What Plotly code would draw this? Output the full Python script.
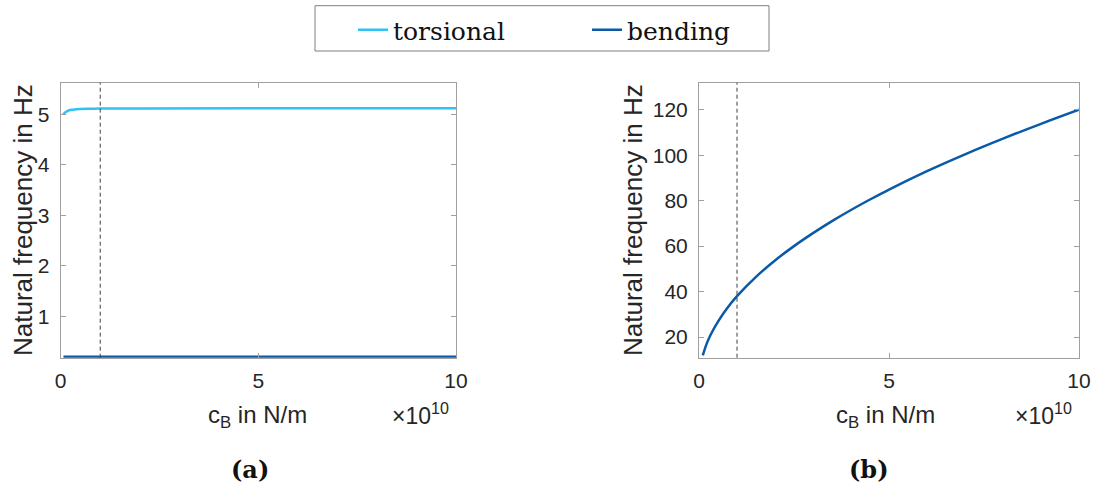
import plotly.graph_objects as go
from plotly.subplots import make_subplots

# Bearing stiffness c_B in units of 1e10 N/m
c_B_torsional = [0.07, 0.1, 0.15, 0.2, 0.3, 0.5, 0.75, 1.0, 2.0, 5.0, 10.0]
f_torsional = [5.00, 5.03, 5.06, 5.08, 5.095, 5.11, 5.115, 5.118, 5.12, 5.122, 5.122]

c_B_bending_a = [0.07, 1.0, 5.0, 10.0]
f_bending_a = [0.2, 0.2, 0.2, 0.2]

c_B_bending_b = [0.1, 0.2, 0.3, 0.5, 0.75, 1.0, 1.5, 2.0, 2.5, 3.0, 3.5, 4.0,
                 4.5, 5.0, 6.0, 7.0, 8.0, 9.0, 10.0]
f_bending_b = [11.9, 17.0, 20.8, 26.8, 32.9, 38.0, 46.5, 53.7, 60.0, 65.7, 71.0,
               75.9, 80.5, 84.9, 93.0, 100.4, 107.3, 113.8, 120.0]

c_B_nominal = 1.0  # design stiffness, 1e10 N/m

x_ticks = [0, 5, 10]
y_ticks_a = [1, 2, 3, 4, 5]
y_ticks_b = [20, 40, 60, 80, 100, 120]

C_TORS = "#2EC2F5"
C_BEND = "#0A5AA8"
TXT = "#262626"
AX = "#A0A0A0"
SANS = "Liberation Sans"
SERIF = "DejaVu Serif"

W, H = 1097, 484

fig = make_subplots(rows=1, cols=2)

fig.add_trace(go.Scatter(x=c_B_torsional, y=f_torsional, mode="lines", name="torsional",
                         line=dict(color=C_TORS, width=2.5, shape="spline")), row=1, col=1)
fig.add_trace(go.Scatter(x=c_B_bending_a, y=f_bending_a, mode="lines", name="bending",
                         line=dict(color=C_BEND, width=2.5)), row=1, col=1)
fig.add_trace(go.Scatter(x=c_B_bending_b, y=f_bending_b, mode="lines", name="bending",
                         showlegend=False,
                         line=dict(color=C_BEND, width=2.5, shape="spline")), row=1, col=2)

axis_common = dict(showline=True, linecolor=AX, linewidth=1, mirror="ticks",
                   ticks="inside", ticklen=5, tickcolor=AX, showgrid=False,
                   zeroline=False, automargin=False,
                   tickfont=dict(family=SANS, size=21, color=TXT))

fig.update_xaxes(**axis_common, range=[0, 10], tickvals=x_ticks, ticklabelstandoff=4)
fig.update_yaxes(**axis_common, ticklabelstandoff=6)

fig.update_layout(
    xaxis=dict(domain=[60.7 / W, 456 / W]),
    xaxis2=dict(domain=[699 / W, 1079 / W]),
    yaxis=dict(domain=[1 - 357.7 / H, 1 - 82.7 / H], range=[0.18, 5.63], tickvals=y_ticks_a),
    yaxis2=dict(domain=[1 - 357.7 / H, 1 - 82.7 / H], range=[10.9, 131.9], tickvals=y_ticks_b),
)

# Dashed marker at the nominal bearing stiffness
for col in (1, 2):
    fig.add_vline(x=c_B_nominal, line=dict(color="#404040", width=1, dash="4px,3px"),
                  row=1, col=col)

# Legend frame
fig.add_shape(type="rect", xref="paper", yref="paper", x0=315 / W, x1=769 / W,
              y0=1 - 51 / H, y1=1 - 5.7 / H, line=dict(color="#7F7F7F", width=1, dash="solid"),
              fillcolor="rgba(0,0,0,0)", layer="below")

ann = []
for xc in (23, 633):
    ann.append(dict(text="Natural frequency in Hz", x=xc / W, y=1 - 220 / H, xref="paper",
                    yref="paper", textangle=-90, showarrow=False,
                    xanchor="center", yanchor="middle",
                    font=dict(family=SANS, size=26, color=TXT)))
for xc, xm in ((257, 390), (885, 1013)):
    ann.append(dict(text="c<sub>B</sub> in N/m", x=xc / W, y=1 - 416 / H, xref="paper",
                    yref="paper", showarrow=False, xanchor="center", yanchor="middle",
                    font=dict(family=SANS, size=24, color=TXT)))
    ann.append(dict(text="×10<sup>10</sup>", x=xm / W, y=1 - 414 / H, xref="paper",
                    yref="paper", showarrow=False, xanchor="left", yanchor="middle",
                    font=dict(family=SANS, size=23, color=TXT)))
for xc, lab in ((250, "(a)"), (869, "(b)")):
    ann.append(dict(text="<b>" + lab + "</b>", x=xc / W, y=1 - 469 / H, xref="paper",
                    yref="paper", showarrow=False, xanchor="center", yanchor="middle",
                    font=dict(family=SERIF, size=24, color="#111111")))

fig.update_layout(
    width=W, height=H,
    margin=dict(l=0, r=0, t=0, b=0),
    paper_bgcolor="white", plot_bgcolor="white",
    annotations=ann,
    showlegend=True,
    legend=dict(orientation="h", x=353 / W, y=1 - 7 / H, xanchor="left", yanchor="top",
                entrywidth=189, entrywidthmode="pixels", bgcolor="rgba(0,0,0,0)",
                font=dict(family=SERIF, size=25, color="#111111")),
)

fig.write_html("out.html")
